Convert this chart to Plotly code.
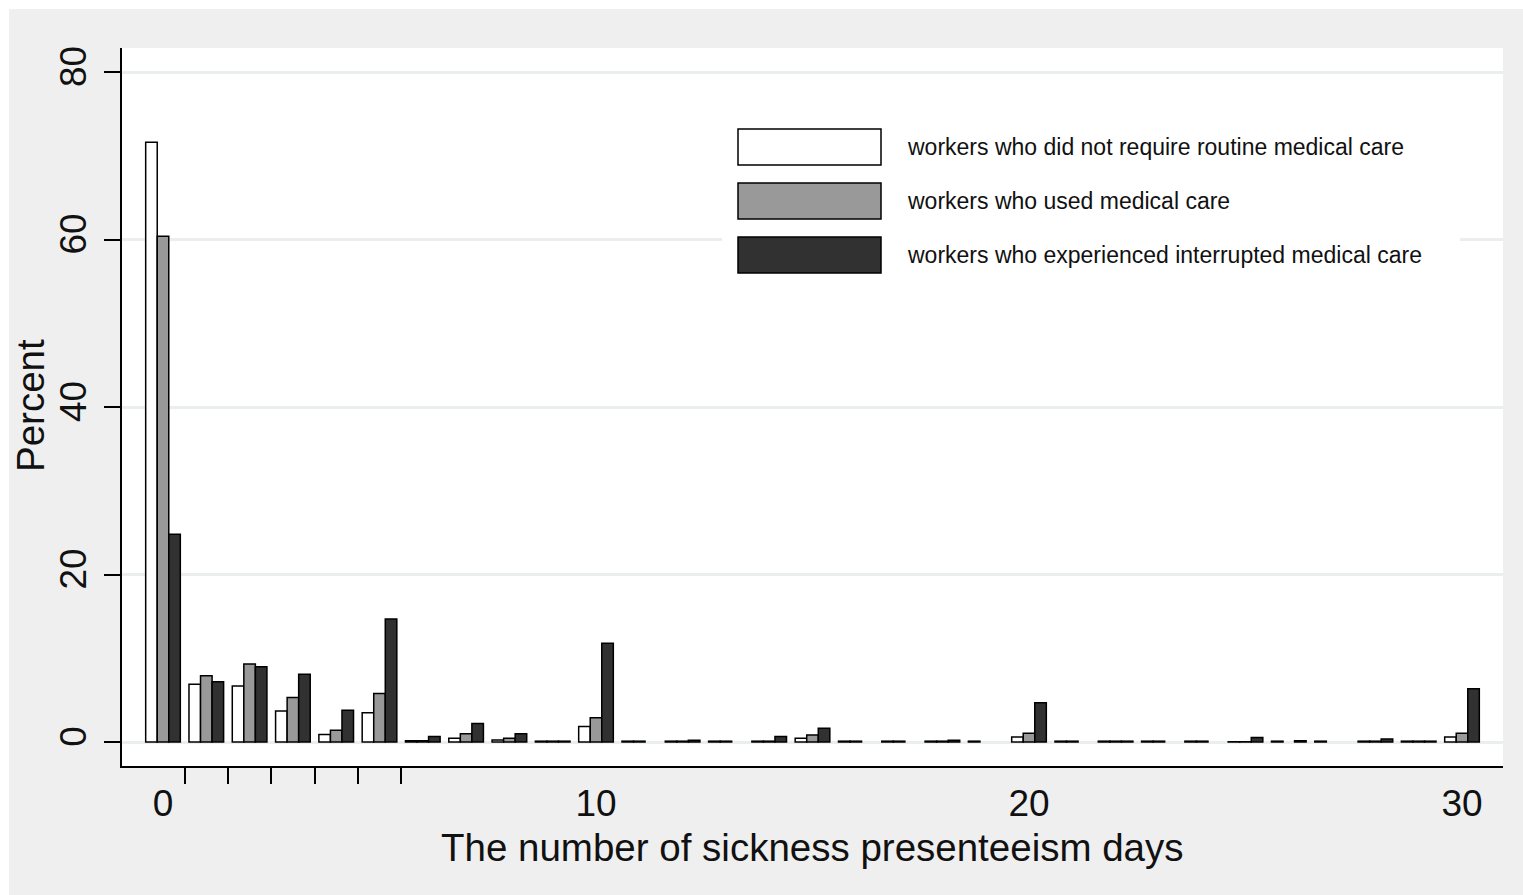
import plotly.graph_objects as go

# ---------------- data ----------------
days = list(range(31))
no_routine_care = [71.6, 6.9, 6.7, 3.7, 0.9, 3.5, 0.15, 0.45, 0.25, 0.1,
                   1.85, 0.1, 0.1, 0.1, 0.1, 0.45, 0.1, 0.1, 0.1, 0.1,
                   0.6, 0.1, 0.1, 0.1, 0.1, 0.03, 0.1, 0.1, 0.1, 0.1, 0.6]
used_care = [60.4, 7.9, 9.3, 5.3, 1.4, 5.8, 0.15, 1.0, 0.45, 0.1,
             2.9, 0.1, 0.1, 0.1, 0.1, 0.85, 0.1, 0.1, 0.1, 0,
             1.05, 0.1, 0.1, 0.1, 0.1, 0.03, 0, 0, 0.1, 0.1, 1.05]
interrupted_care = [24.8, 7.2, 9.0, 8.1, 3.8, 14.7, 0.65, 2.2, 1.0, 0.1,
                    11.8, 0, 0.2, 0, 0.65, 1.65, 0, 0, 0.2, 0,
                    4.7, 0, 0.1, 0, 0, 0.55, 0.15, 0, 0.35, 0.1, 6.35]
series_names = ["workers who did not require routine medical care",
                "workers who used medical care",
                "workers who experienced interrupted medical care"]
y_ticks = [0, 20, 40, 60, 80]
x_ticks = [0, 10, 20, 30]
x_minor_ticks = [0.5, 1.5, 2.5, 3.5, 4.5, 5.5]
x_title = "The number of sickness presenteeism days"
y_title = "Percent"

# ---------------- styling ----------------
FILL = ["#ffffff", "#999999", "#313131"]
FONT = "Liberation Sans, Arial, sans-serif"
W_FIG, H_FIG = 1523, 895
EDGE = 9  # thin white border at the top and left of the picture
# plot area in screen pixels
SL, SR, ST, SB = 122, 1503, 48, 766
PW, PH = SR - SL, SB - ST


def px_x(sx):
    return (sx - SL) / PW


def px_y(sy):
    return (SB - sy) / PH


def nz(vals):
    return [v if v != 0 else None for v in vals]


fig = go.Figure()
for name, vals, col in zip(series_names,
                           [no_routine_care, used_care, interrupted_care], FILL):
    fig.add_trace(go.Bar(x=days, y=nz(vals), name=name,
                         marker=dict(color=col, line=dict(color="#000000", width=1.5)),
                         showlegend=False))

shapes = []
annotations = []
# white border strips
shapes.append(dict(type="rect", xref="paper", yref="paper", layer="below",
                   x0=px_x(0), x1=px_x(W_FIG), y0=px_y(EDGE), y1=px_y(0),
                   fillcolor="#ffffff", line=dict(width=0)))
shapes.append(dict(type="rect", xref="paper", yref="paper", layer="below",
                   x0=px_x(0), x1=px_x(EDGE), y0=px_y(H_FIG), y1=px_y(0),
                   fillcolor="#ffffff", line=dict(width=0)))
# legend background
shapes.append(dict(type="rect", xref="paper", yref="paper", layer="above",
                   x0=px_x(722), x1=px_x(1460), y0=px_y(292), y1=px_y(110),
                   fillcolor="#ffffff", line=dict(width=0)))
box_tops = [129, 183, 237]
for name, col, top in zip(series_names, FILL, box_tops):
    shapes.append(dict(type="rect", xref="paper", yref="paper", layer="above",
                       x0=px_x(738), x1=px_x(881), y0=px_y(top + 36), y1=px_y(top),
                       fillcolor=col, line=dict(color="#000000", width=1.5)))
    annotations.append(dict(text=name, xref="paper", yref="paper",
                            x=px_x(905), y=px_y(top + 18), xanchor="left",
                            yanchor="middle", showarrow=False,
                            font=dict(family=FONT, size=23, color="#111111")))
# axis titles
annotations.append(dict(text=x_title, xref="paper", yref="paper",
                        x=px_x(812), y=px_y(847), xanchor="center", yanchor="middle",
                        showarrow=False, font=dict(family=FONT, size=38.5, color="#111111")))
annotations.append(dict(text=y_title, xref="paper", yref="paper",
                        x=px_x(30), y=px_y(406), xanchor="center", yanchor="middle",
                        textangle=-90, showarrow=False,
                        font=dict(family=FONT, size=38.5, color="#111111")))

fig.update_layout(
    width=W_FIG, height=H_FIG,
    margin=dict(l=SL, r=W_FIG - SR, t=ST, b=H_FIG - SB, pad=0),
    paper_bgcolor="#efefef", plot_bgcolor="#ffffff",
    barmode="group", bargap=0.2, bargroupgap=0,
    shapes=shapes, annotations=annotations,
    font=dict(family=FONT, color="#111111"),
    xaxis=dict(range=[(SL - 163) / 43.3, (SR - 163) / 43.3],
               tickmode="array", tickvals=x_ticks, ticks="",
               ticklabelstandoff=4,
               tickfont=dict(family=FONT, size=37, color="#111111"),
               showgrid=False, zeroline=False,
               showline=True, linecolor="#000000", linewidth=2,
               minor=dict(tickmode="array", tickvals=x_minor_ticks, ticks="outside",
                          ticklen=16, tickwidth=2, tickcolor="#000000", showgrid=False)),
    yaxis=dict(range=[(742 - SB) / 8.375, (742 - ST) / 8.375],
               tickmode="array", tickvals=y_ticks, ticks="outside",
               ticklen=16, tickwidth=2, tickcolor="#000000",
               tickangle=-90, ticklabelstandoff=3,
               tickfont=dict(family=FONT, size=37, color="#111111"),
               showgrid=True, gridcolor="#eaeeee", gridwidth=3,
               zeroline=False,
               showline=True, linecolor="#000000", linewidth=2),
)

fig.write_html("out.html",
               config={"displayModeBar": False},
               post_script="document.body.style.margin='0';"
                           "document.body.style.overflow='hidden';")
